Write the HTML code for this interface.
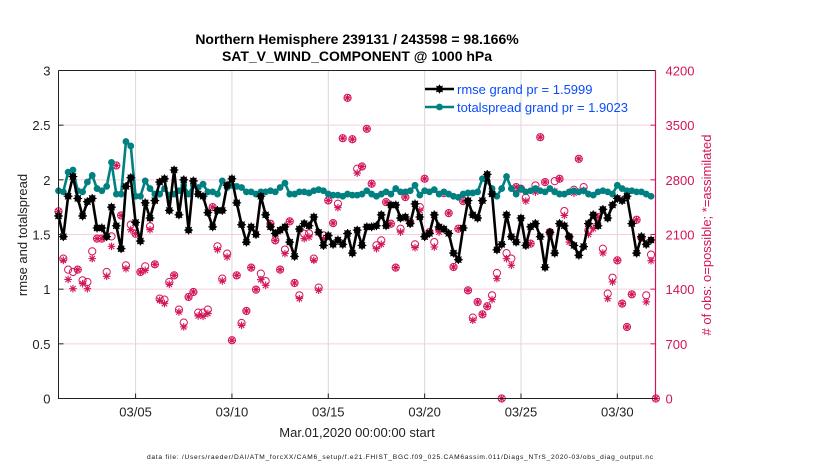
<!DOCTYPE html>
<html><head><meta charset="utf-8">
<style>
html,body{margin:0;padding:0;background:#fff;}
svg{display:block;font-family:"Liberation Sans",sans-serif;}
</style></head>
<body>
<svg id="chart" width="830" height="470" viewBox="0 0 830 470">
  <g id="grid"></g>
  <g id="obs"></g>
  <g id="series"></g>
  <g id="axes"></g>
  <text x="357" y="44" text-anchor="middle" font-size="14" font-weight="bold">Northern Hemisphere 239131 / 243598 = 98.166%</text>
  <text x="357" y="61" text-anchor="middle" font-size="14" font-weight="bold">SAT_V_WIND_COMPONENT @ 1000 hPa</text>
  <text transform="translate(27,235) rotate(-90)" text-anchor="middle" font-size="13" fill="#222">rmse and totalspread</text>
  <text transform="translate(711,235) rotate(-90)" text-anchor="middle" font-size="13" fill="#d4145a"># of obs: o=possible; *=assimilated</text>
  <text x="357" y="437" text-anchor="middle" font-size="13" fill="#222">Mar.01,2020 00:00:00 start</text>
  <text x="400" y="459" text-anchor="middle" font-size="6.6" fill="#111" textLength="506">data file: /Users/raeder/DAI/ATM_forcXX/CAM6_setup/f.e21.FHIST_BGC.f09_025.CAM6assim.011/Diags_NTrS_2020-03/obs_diag_output.nc</text>
  <g id="legend"></g>
</svg>
<script>
const rmse = [1.67,1.48,1.85,2.03,1.83,1.67,1.80,1.83,1.56,1.56,1.48,1.75,1.58,1.37,1.94,2.02,1.61,1.44,1.79,1.65,1.81,1.98,2.01,1.72,2.09,1.68,2.00,1.54,1.99,1.87,1.85,1.70,
1.57,1.72,1.72,1.95,2.01,1.79,1.59,1.43,1.57,1.50,1.85,1.68,1.57,1.51,1.54,1.57,1.43,1.30,1.55,1.60,1.58,1.66,1.52,1.40,1.49,1.41,1.45,1.41,1.51,1.33,1.54,
1.40,1.57,1.57,1.58,1.68,1.58,1.77,1.77,1.65,1.66,1.60,1.78,1.66,1.48,1.51,1.68,1.57,1.55,1.51,1.33,1.27,1.56,1.81,1.68,1.65,1.81,2.05,1.87,1.36,1.41,1.68,
1.48,1.43,1.65,1.40,1.57,1.60,1.48,1.20,1.52,1.33,1.60,1.58,1.48,1.40,1.31,1.39,1.60,1.68,1.58,1.73,1.65,1.77,1.83,1.81,1.85,1.60,1.33,1.48,1.41,1.45];
const spread = [1.90,1.89,2.07,2.09,1.90,1.89,1.98,2.04,1.92,1.90,1.94,2.16,1.87,1.87,2.35,2.31,1.85,1.85,1.99,1.92,1.87,1.87,1.92,1.86,1.87,1.90,1.95,1.87,1.95,1.93,1.96,1.89,
1.89,1.87,1.99,1.93,1.95,1.94,1.93,1.89,1.89,1.87,1.89,1.89,1.90,1.89,1.93,1.97,1.87,1.87,1.89,1.89,1.88,1.90,1.91,1.90,1.87,1.86,1.86,1.85,1.87,1.86,1.86,
1.87,1.90,1.87,1.85,1.87,1.89,1.87,1.92,1.89,1.89,1.90,1.95,1.86,1.90,1.89,1.91,1.87,1.89,1.87,1.85,1.84,1.87,1.88,1.88,1.89,2.01,1.99,1.92,1.85,1.92,2.03,
1.92,1.87,1.92,1.89,1.90,1.92,1.90,1.89,1.92,1.89,1.87,1.87,1.89,1.90,1.89,1.90,1.87,1.86,1.89,1.90,1.89,1.87,1.95,1.92,1.90,1.90,1.89,1.89,1.87,1.85];
const obsPossible = [2396,1791,1650,1620,1650,1513,1492,1884,2047,2047,1620,2076,2984,2344,1705,2226,2110,1620,1692,2204,1718,1279,1266,1492,1577,1138,972,1300,1364,1100,1100,1138,
2451,1948,1535,1855,746,1577,967,1121,1676,1394,1599,1504,2238,2025,1650,1906,2268,1479,1321,2110,2115,1791,1420,2089,2536,2246,2494,3333,3850,3320,2942,
2971,3453,2750,1961,2025,2515,2238,1676,2174,2579,2259,1974,2451,2814,2131,2003,2174,2630,2374,1684,2174,2527,1385,1036,1236,1078,1181,1321,1607,0,1862,
1791,2707,2686,2571,1983,2728,3346,2771,2131,2783,2814,2399,2067,2673,3069,2707,2153,2280,2323,1918,1343,1547,1769,1215,916,1334,2289,2059,1321,1842,0];
const obsAssim = [2396,1770,1524,1406,1650,1470,1406,1791,2047,2047,1565,1948,2984,2344,1662,2162,2110,1620,1641,2162,1718,1258,1215,1462,1577,1108,917,1300,1364,1057,1053,1087,
2451,1905,1505,1812,746,1577,937,1121,1676,1394,1522,1449,2238,2025,1650,1855,2268,1479,1279,2047,2068,1770,1386,2047,2536,2246,2443,3333,3850,3320,2887,
2971,3453,2750,1918,1974,2515,2238,1676,2131,2579,2259,1931,2409,2814,2131,1940,2131,2630,2374,1684,2174,2527,1385,1002,1236,1078,1181,1266,1535,0,1790,
1705,2707,2686,2528,1983,2643,3346,2771,2101,2655,2814,2344,2003,2630,3069,2664,2102,2174,2323,1863,1279,1492,1769,1215,916,1334,2289,2059,1236,1765,0];
const leftTicks = [0,0.5,1,1.5,2,2.5,3];
const rightTicks = [0,700,1400,2100,2800,3500,4200];
const xTickDays = [4,9,14,19,24,29];
const xTickLabels = ["03/05","03/10","03/15","03/20","03/25","03/30"];

const NS="http://www.w3.org/2000/svg";
const L=58.5,R=655.5,T=70.5,B=398.5;
const pxDay=19.27;
const xOfIdx=i=>L+i*pxDay/4;
const xOfDay=d=>L+d*pxDay;
const yL=v=>B-v/3*(B-T);
const yR=n=>B-n/4200*(B-T);
function mk(tag,attrs,parent){const e=document.createElementNS(NS,tag);for(const k in attrs)e.setAttribute(k,attrs[k]);parent.appendChild(e);return e;}
const grid=document.getElementById('grid'),axes=document.getElementById('axes'),ser=document.getElementById('series'),obs=document.getElementById('obs'),leg=document.getElementById('legend');

xTickDays.forEach((d,k)=>{
  const x=xOfDay(d);
  const g=mk('line',{x1:x,x2:x,y1:T,y2:B,stroke:'#d8d8d8','stroke-width':1},grid);
  
  
  const t=mk('line',{x1:x,x2:x,y1:B,y2:B-5,stroke:'#222'},axes);
  
  
  const lb=mk('text',{x:x,y:B+18,'text-anchor':'middle','font-size':13,fill:'#222'},axes);
  lb.textContent=xTickLabels[k];
  
  
});
rightTicks.forEach(n=>{
  const y=yR(n);
  if(n>0&&n<4200){const g=mk('line',{x1:L,x2:R,y1:y,y2:y,stroke:'#f6cfdc','stroke-width':1},grid);
  
  }
  const t=mk('line',{x1:R,x2:R-5,y1:y,y2:y,stroke:'#d4145a'},axes);
  
  
  const lb=mk('text',{x:R+10,y:y+5,'font-size':13,fill:'#d4145a'},axes);
  lb.textContent=n;
  
  
});
leftTicks.forEach(v=>{
  const y=yL(v);
  const t=mk('line',{x1:L,x2:L+5,y1:y,y2:y,stroke:'#222'},axes);
  
  
  const lb=mk('text',{x:L-8,y:y+5,'text-anchor':'end','font-size':13,fill:'#222'},axes);
  lb.textContent=v;
  
  
});
const axl=mk('path',{d:`M${L},${T}V${B}H${R}`,fill:'none',stroke:'#222','stroke-width':1},axes);


const axr=mk('line',{x1:R,x2:R,y1:T,y2:B,stroke:'#d4145a','stroke-width':1.2},axes);


const axt=mk('line',{x1:L,x2:R,y1:T,y2:T,stroke:'#222','stroke-width':1},axes);



function star(cx,cy,r,color,parent){
  let d='';
  for(let a=0;a<180;a+=45){const rad=a*Math.PI/180,dx=r*Math.cos(rad),dy=r*Math.sin(rad);d+=`M${cx-dx},${cy-dy}L${cx+dx},${cy+dy}`;}
  return mk('path',{d:d,stroke:color,'stroke-width':1.1,fill:'none'},parent);
}
obsPossible.forEach((n,i)=>{
  const c=mk('circle',{cx:xOfIdx(i),cy:yR(n),r:3.6,fill:'none',stroke:'#d4145a','stroke-width':1},obs);
  
  
});
obsAssim.forEach((n,i)=>{
  const s=star(xOfIdx(i),yR(n),3.8,'#d4145a',obs);
  
  
});

function drawSeries(vals,color,name,isStar){
  const pts=vals.map((v,i)=>`${xOfIdx(i)},${yL(v)}`).join(' ');
  const pl=mk('polyline',{points:pts,fill:'none',stroke:color,'stroke-width':2.6,'stroke-linejoin':'round'},ser);
  
  
  vals.forEach((v,i)=>{
    const c=mk('circle',{cx:xOfIdx(i),cy:yL(v),r:3.4,fill:color},ser);
    
    
    if(isStar){star(xOfIdx(i),yL(v),4.4,color,ser);}
  });
}
drawSeries(spread,'#008080','totalspread',false);
drawSeries(rmse,'#000','rmse',true);

[['rmse grand pr = 1.5999','#000',89,true],['totalspread grand pr = 1.9023','#008080',107,false]].forEach(e=>{
  const ln=mk('line',{x1:425,x2:454,y1:e[2],y2:e[2],stroke:e[1],'stroke-width':2.6},leg);
  
  
  const c=mk('circle',{cx:439.5,cy:e[2],r:3.4,fill:e[1]},leg);
  
  
  if(e[3])star(439.5,e[2],4.4,e[1],leg);
  const t=mk('text',{x:457,y:e[2]+5,'font-size':13,fill:'#0a4cff'},leg);
  t.textContent=e[0];
  
  
});
</script>
</body></html>
